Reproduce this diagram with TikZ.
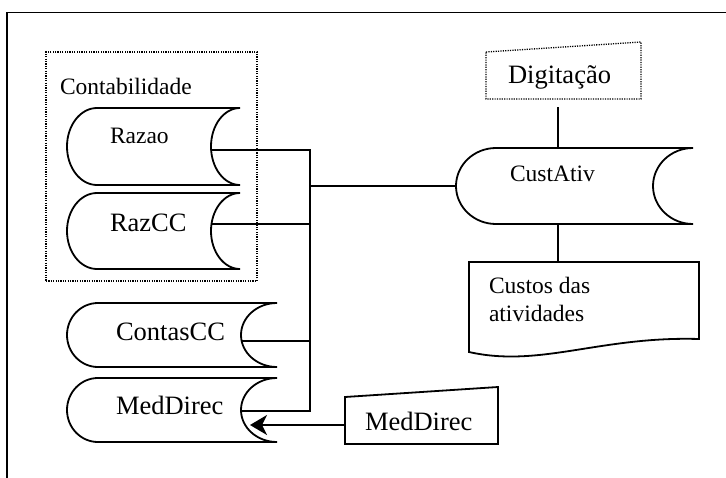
\documentclass[tikz,border=0pt]{standalone}
\usepackage{fontspec}
\setmainfont{Liberation Serif}
\usetikzlibrary{arrows.meta}

\tikzset{
  flow/.style={line width=1.8pt, line join=miter},
  shapeline/.style={line width=1.8pt, line join=miter},
  dotline/.style={line width=1.3pt, dash pattern=on 1.2pt off 1.2pt},
  smalltext/.style={font=\fontsize{23.5}{28}\selectfont, inner sep=0pt, outer sep=0pt},
  bigtext/.style={font=\fontsize{26.5}{30}\selectfont, inner sep=0pt, outer sep=0pt},
  region/.style={inner sep=0pt, outer sep=0pt},
  feed/.style={-{Stealth[length=17pt,width=20pt,inset=5pt]}}
}

% Stored-data symbol: name, left, top, right, bottom, left bulge, right hollow
\newcommand\storeshape[7]{%
  \pgfmathsetmacro\sM{(#3+#5)/2}%
  \pgfmathsetmacro\sA{\sM-0.552*(#5-#3)/2}%
  \pgfmathsetmacro\sB{\sM+0.552*(#5-#3)/2}%
  \pgfmathsetmacro\sLi{#2+#6}%
  \pgfmathsetmacro\sLc{#2+0.448*#6}%
  \pgfmathsetmacro\sRi{#4-#7}%
  \pgfmathsetmacro\sRc{#4-0.552*#7}%
  \pgfmathsetmacro\sW{#4-#2}%
  \pgfmathsetmacro\sH{#5-#3}%
  \pgfmathsetmacro\sCx{(#2+#4)/2}%
  \node[region, minimum width=\sW pt, minimum height=\sH pt] (#1) at (\sCx,\sM) {};
  \draw[shapeline] (#4,#3) -- (\sLi,#3)
    .. controls (\sLc,#3) and (#2,\sA) .. (#2,\sM)
    .. controls (#2,\sB) and (\sLc,#5) .. (\sLi,#5)
    -- (#4,#5)
    .. controls (\sRc,#5) and (\sRi,\sB) .. (\sRi,\sM)
    .. controls (\sRi,\sA) and (\sRc,#3) .. (#4,#3) -- cycle;
}

\begin{document}
\begin{tikzpicture}[x=1pt,y=-1pt]
\useasboundingbox (0,0) rectangle (726,477);

% outer frame (only the top and left edges fall inside the page)
\draw[line width=1.8pt] (7,490) -- (7,12.5) -- (740,12.5);

% accounting group
\node[region, draw, dotline, minimum width=211pt, minimum height=229pt] (contabbox) at (151.5,166.5) {};
\node[smalltext, anchor=base west] (contabtitle) at (60,94) {Contabilidade};

% stored data
\storeshape{razao}{67}{108}{240}{185}{30}{29}
\storeshape{razcc}{67}{193}{240}{269}{30}{29}
\storeshape{contascc}{67}{303}{277}{367}{31}{36}
\storeshape{meddirec}{67}{378}{277}{442}{31}{36}
\storeshape{custativ}{456}{148}{693}{224}{40}{40}

\node[smalltext, anchor=base west] (razaotext) at (110,143) {Razao};
\node[bigtext, anchor=base west] (razcctext) at (110,231) {RazCC};
\node[bigtext, anchor=base west] (contascctext) at (116,340) {ContasCC};
\node[bigtext, anchor=base west] (meddirectext) at (116,414) {MedDirec};
\node[smalltext, anchor=base west] (custativtext) at (510,181) {CustAtiv};

% manual input: Digitação (dotted)
\draw[dotline] (486,52) -- (641,42) -- (641,99) -- (486,99) -- cycle;
\node[bigtext, anchor=base west] (digitacao) at (508,83) {Digitação};

% manual input: MedDirec
\draw[shapeline] (345,397) -- (498,387) -- (498,444) -- (345,444) -- cycle;
\node[bigtext, anchor=base west] (medinput) at (365,430) {MedDirec};

% document: Custos das atividades
\draw[shapeline] (469,352) -- (469,262) -- (699,262) -- (699,339)
  .. controls (600,336) and (540,368) .. (469,352) -- cycle;
\node[smalltext, anchor=north west, align=left] (custos) at (489,277.5) {Custos das\\atividades};

% connection points
\coordinate (razao-port) at (211,150);
\coordinate (razcc-port) at (211,224);
\coordinate (contascc-port) at (241,341);
\coordinate (meddirec-port) at (241,411);
\coordinate (bus-top) at (310,150);
\coordinate (dig-port) at (558,107);
\coordinate (custos-top) at (558,262);
\coordinate (medinput-port) at (345,425);
\coordinate (meddirec-tip) at (250,425);

% bus joining the stores to CustAtiv
\draw[flow] (razao-port) -- (bus-top) -- (bus-top |- meddirec-port) -- (meddirec-port);
\draw[flow] (razcc-port) -- (razcc-port -| bus-top);
\draw[flow] (contascc-port) -- (contascc-port -| bus-top);
\draw[flow] (custativ.west) -- (custativ.west -| bus-top);

% vertical links of CustAtiv
\draw[flow] (dig-port) -- (dig-port |- custativ.north);
\draw[flow] (custativ.south -| custos-top) -- (custos-top);

% MedDirec input feeding the store
\draw[flow, feed] (medinput-port) -- (meddirec-tip);
\end{tikzpicture}
\end{document}
